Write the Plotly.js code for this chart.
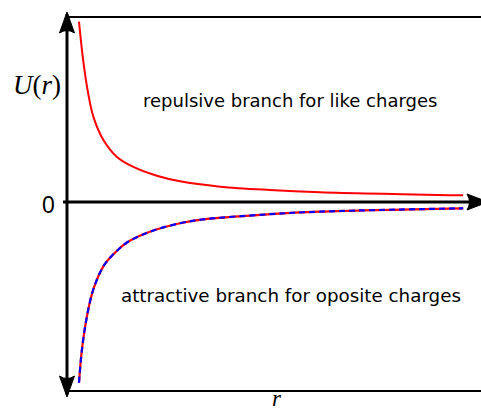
<!DOCTYPE html>
<html>
<head>
<meta charset="utf-8">
<script src="https://cdn.plot.ly/plotly-3.0.1.min.js"></script>
<style>html,body{margin:0;padding:0;background:#fff;}#chart{width:481px;height:410px;}</style>
</head>
<body>
<div id="chart"></div>
<script>
// Repulsive branch (like charges)
var rRep = [0.29, 0.39, 0.51, 0.64, 0.88, 1.20, 1.59, 2.17, 2.73, 3.70, 4.90, 6.11, 9.57];
var uRep = [9.75, 7.68, 5.89, 4.59, 3.35, 2.45, 1.91, 1.42, 1.12, 0.83, 0.65, 0.53, 0.36];
// Attractive branch (opposite charges)
var rAtt = [0.29, 0.36, 0.48, 0.64, 0.90, 1.20, 1.44, 2.00, 2.73, 3.29, 4.90, 6.11, 9.57];
var uAtt = [-9.77, -8.0, -6.2, -4.7, -3.4, -2.65, -2.2, -1.61, -1.15, -0.94, -0.66, -0.52, -0.34];

var labelRep = "repulsive branch for like charges";
var labelAtt = "attractive branch for oposite charges";
var yLabel = "<i>U</i>(<i>r</i>)";
var xLabel = "<i>r</i>";
var zeroLabel = "0";

var xTop = 10, yTop = 10.0, yBot = -10.216;

var traces = [
  {x: rRep, y: uRep, mode: "lines", line: {color: "#ff0000", width: 2, shape: "spline", smoothing: 1}, hoverinfo: "skip"},
  {x: rAtt, y: uAtt, mode: "lines", line: {color: "#ff0000", width: 2.2, shape: "spline", smoothing: 1}, hoverinfo: "skip"},
  {x: rAtt, y: uAtt, mode: "lines", line: {color: "#0000ff", width: 2.2, shape: "spline", smoothing: 1, dash: "6px,4px"}, hoverinfo: "skip"}
];

var serif = "Liberation Serif, DejaVu Serif, serif";
var sans = "DejaVu Sans, Liberation Sans, sans-serif";

var layout = {
  width: 481, height: 410,
  margin: {l: 0, r: 0, t: 0, b: 0},
  paper_bgcolor: "#fff", plot_bgcolor: "#fff",
  showlegend: false,
  xaxis: {range: [-1.618, 10], visible: false, fixedrange: true},
  yaxis: {range: [-11.243, 10.919], visible: false, fixedrange: true},
  shapes: [
    {type: "line", xref: "x", yref: "y", x0: 0, x1: 10.2, y0: yTop, y1: yTop, line: {color: "#000", width: 2}},
    {type: "line", xref: "x", yref: "y", x0: 0, x1: 10.2, y0: yBot, y1: yBot, line: {color: "#000", width: 2}},
    {type: "line", xref: "x", yref: "y", x0: 0, x1: 0, y0: yBot - 0.2, y1: yTop + 0.15, line: {color: "#000", width: 3}},
    {type: "line", xref: "x", yref: "y", x0: -0.097, x1: xTop - 0.1, y0: 0, y1: 0, line: {color: "#000", width: 3}},
    {type: "path", xref: "x", yref: "y", xsizemode: "pixel", ysizemode: "pixel", xanchor: 0, yanchor: yTop,
     path: "M0,5 L-7.5,-16 Q0,-11 7.5,-16 Z", fillcolor: "#000", line: {color: "#000", width: 1}},
    {type: "path", xref: "x", yref: "y", xsizemode: "pixel", ysizemode: "pixel", xanchor: 0, yanchor: yBot,
     path: "M0,-6 L-7.5,15 Q0,10 7.5,15 Z", fillcolor: "#000", line: {color: "#000", width: 1}},
    {type: "path", xref: "x", yref: "y", xsizemode: "pixel", ysizemode: "pixel", xanchor: xTop, yanchor: 0,
     path: "M7,0 L-14,8 Q-9,0 -14,-8 Z", fillcolor: "#000", line: {color: "#000", width: 1}}
  ],
  annotations: [
    {x: -0.097, y: 6.32, xref: "x", yref: "y", xanchor: "right", yanchor: "middle", text: yLabel, showarrow: false,
     font: {family: serif, size: 27, color: "#000"}},
    {x: -0.24, y: -0.15, xref: "x", yref: "y", xanchor: "right", yanchor: "middle", text: zeroLabel, showarrow: false,
     font: {family: "Liberation Sans, sans-serif", size: 23, color: "#000"}},
    {x: 5.07, y: -10.62, xref: "x", yref: "y", xanchor: "center", yanchor: "middle", text: xLabel, showarrow: false,
     font: {family: serif, size: 23, color: "#000"}},
    {x: 5.39, y: 5.46, xref: "x", yref: "y", xanchor: "center", yanchor: "middle", text: labelRep, showarrow: false,
     font: {family: sans, size: 18, color: "#000"}},
    {x: 5.41, y: -5.08, xref: "x", yref: "y", xanchor: "center", yanchor: "middle", text: labelAtt, showarrow: false,
     font: {family: sans, size: 18.3, color: "#000"}}
  ]
};

Plotly.newPlot("chart", traces, layout, {displayModeBar: false, staticPlot: true});
</script>
</body>
</html>
